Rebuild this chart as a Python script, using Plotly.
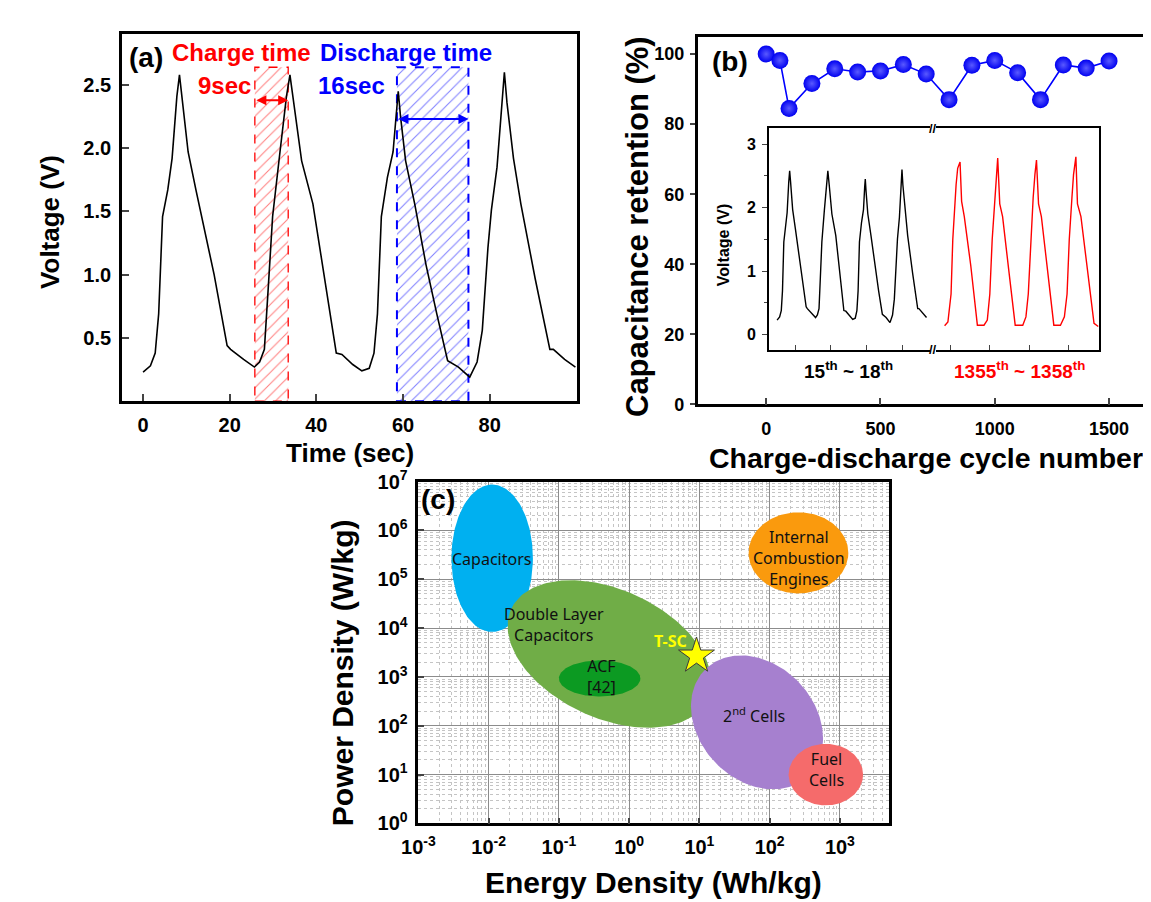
import numpy as np
import plotly.graph_objects as go

# ---------------- data ----------------
# (a) galvanostatic charge/discharge curve (also inset black curve, 15th~18th)
time_s = [0.0, 1.7, 2.8, 3.6, 4.5, 5.7, 6.7, 7.8, 8.4, 9.0, 10.4, 12.2, 16.4, 19.4, 20.2, 23.2, 25.7,
          26.9, 28.0, 28.9, 29.9, 31.6, 33.1, 33.9, 34.8, 36.6, 39.2, 41.7, 44.6, 45.9, 48.4, 50.5, 52.2,
          53.3, 54.1, 55.0, 56.4, 57.7, 58.5, 58.9, 59.4, 60.6, 62.7, 65.3, 67.8, 70.3, 72.8, 75.4,
          77.1, 78.3, 79.6, 80.4, 81.7, 82.8, 83.4, 84.0, 85.5, 87.2, 90.5, 93.9, 94.7, 97.3, 99.8]
voltage_v = [0.23, 0.28, 0.38, 0.69, 1.46, 1.67, 1.92, 2.41, 2.58, 2.41, 1.97, 1.67, 1.00, 0.44, 0.41, 0.33, 0.27,
             0.31, 0.41, 0.90, 1.46, 1.97, 2.41, 2.58, 2.36, 1.90, 1.56, 1.00, 0.38, 0.37, 0.29, 0.24, 0.26,
             0.38, 0.69, 1.46, 1.77, 1.97, 2.33, 2.45, 2.26, 1.90, 1.56, 1.08, 0.69, 0.32, 0.27, 0.19,
             0.31, 0.56, 1.21, 1.51, 1.85, 2.36, 2.60, 2.36, 1.92, 1.56, 0.97, 0.41, 0.41, 0.33, 0.27]
charge_window = [25.8, 33.5]      # s
discharge_window = [58.6, 75.1]   # s
window_top_v = 2.64
charge_arrow_v = 2.38
discharge_arrow_v = 2.23
a_xticks = [0, 20, 40, 60, 80]
a_yticks = [0.5, 1.0, 1.5, 2.0, 2.5]

# (b) capacitance retention
cycle_no = [0, 60, 100, 200, 300, 400, 500, 600, 700, 800, 900, 1000, 1100, 1200, 1300, 1400, 1500]
retention_pct = [100.0, 98.2, 84.5, 91.6, 95.8, 94.9, 95.2, 97.0, 94.3, 87.0, 96.8, 98.2, 94.7, 87.0,
                 96.9, 96.0, 98.0]
b_xticks = [0, 500, 1000, 1500]
b_yticks = [0, 20, 40, 60, 80, 100]

# (b) inset, 1355th ~ 1358th cycles
late_time_s = [-3.7, -1.6, 0.4, 1.5, 3.6, 4.6, 6.1, 7.1, 8.8, 12.9, 17.1, 21.3, 23.4, 25.0, 26.5, 28.1, 29.0,
               30.0, 31.3, 33.1, 36.9, 41.1, 45.9, 47.9, 49.4, 50.9, 52.5, 53.6, 54.6, 55.9, 57.7, 61.5,
               65.6, 69.8, 72.3, 74.0, 75.4, 77.1, 78.1, 79.6, 80.6, 82.8, 86.9, 91.1, 93.8]
late_voltage_v = [0.14, 0.20, 0.64, 1.50, 2.36, 2.62, 2.72, 2.10, 1.86, 1.09, 0.15, 0.15, 0.23, 0.64, 1.50,
                  2.06, 2.52, 2.78, 2.06, 1.86, 1.04, 0.15, 0.15, 0.28, 0.64, 1.50, 2.16, 2.52, 2.75, 2.06,
                  1.86, 1.04, 0.15, 0.15, 0.28, 0.64, 1.50, 2.16, 2.52, 2.80, 2.06, 1.86, 1.04, 0.18, 0.13]
inset_early_ticks = [12, 36, 60, 84]
inset_late_ticks = [0, 25, 50, 75]
inset_yticks = [0, 1, 2, 3]

# (c) Ragone plot regions: log10 centre (Wh/kg, W/kg), half extents (decades), tilt correlation
region_names = ["Capacitors", "Internal Combustion Engines", "Double Layer Capacitors",
                "2nd Cells", "Fuel Cells", "ACF"]
region_log_energy = [-1.95, 2.41, -0.28, 1.82, 2.80, -0.42]
region_log_power = [5.43, 5.54, 3.47, 2.07, 1.00, 2.97]
region_half_energy = [0.58, 0.71, 1.45, 0.94, 0.53, 0.58]
region_half_power = [1.51, 0.83, 1.51, 1.37, 0.63, 0.37]
region_tilt = [0.0, 0.0, -0.38, -0.24, 0.0, 0.0]
region_colors = ["#00B0F0", "#FA9A0D", "#70AD47", "#A680CF", "#F56B6B", "#0C9A22"]
region_labels = ["Capacitors", "Internal<br>Combustion<br>Engines", "Double Layer<br>Capacitors",
                 "2<sup>nd</sup> Cells", "Fuel<br>Cells", "ACF<br>[42]"]
label_energy = [0.0108, 260, 0.0155, 60, 650, 0.40]
label_power = [2.6e5, 2.7e5, 1.2e4, 170, 13, 1000]
tsc_energy = [9.1]
tsc_power = [2700]
c_xticks = [1e-3, 1e-2, 1e-1, 1e0, 1e1, 1e2, 1e3]
c_xticktext = ["10<sup>-3</sup>", "10<sup>-2</sup>", "10<sup>-1</sup>", "10<sup>0</sup>",
               "10<sup>1</sup>", "10<sup>2</sup>", "10<sup>3</sup>"]
c_yticks = [1e0, 1e1, 1e2, 1e3, 1e4, 1e5, 1e6, 1e7]
c_yticktext = ["10<sup>%d</sup>" % k for k in range(8)]

# ---------------- figure ----------------
W, H = 1151, 902
FONT = "Arial, Liberation Sans, sans-serif"
LBL = "Noto Sans, Open Sans, sans-serif"


def px(x):
    return x / W


def py(y):
    return 1 - y / H


fig = go.Figure()

# (a) hatched windows
for (s, e), col, lw in [(charge_window, "#FF0000", 1.3), (discharge_window, "#0000FF", 2)]:
    fig.add_trace(go.Scatter(
        x=[s, e, e, s, s], y=[0, 0, window_top_v, window_top_v, 0], mode="lines",
        fill="toself", fillcolor="rgba(0,0,0,0)",
        fillpattern=dict(shape="/", fgcolor=col, bgcolor="rgba(0,0,0,0)", size=8, solidity=0.13),
        line=dict(color=col, width=lw, dash="dash"), xaxis="x", yaxis="y", hoverinfo="skip"))
fig.add_trace(go.Scatter(x=time_s, y=voltage_v, mode="lines", line=dict(color="black", width=1.6),
                         xaxis="x", yaxis="y"))

# (b) retention
fig.add_trace(go.Scatter(x=cycle_no, y=retention_pct, mode="lines+markers",
                         line=dict(color="#0000FF", width=1.6),
                         marker=dict(size=17, color="#0000F0",
                                     gradient=dict(type="radial", color="#5A5AFF")),
                         xaxis="x2", yaxis="y2"))
# inset
fig.add_trace(go.Scatter(x=time_s, y=voltage_v, mode="lines", line=dict(color="black", width=1.4),
                         xaxis="x3", yaxis="y3"))
fig.add_trace(go.Scatter(x=late_time_s, y=late_voltage_v, mode="lines", line=dict(color="#FF0000", width=1.4),
                         xaxis="x4", yaxis="y4"))

# (c) regions
tt = np.linspace(0, 2 * np.pi, 181)
for i in range(len(region_names)):
    r = region_tilt[i]
    lx = region_log_energy[i] + region_half_energy[i] * np.cos(tt)
    ly = region_log_power[i] + region_half_power[i] * (r * np.cos(tt) + np.sqrt(1 - r * r) * np.sin(tt))
    fig.add_trace(go.Scatter(x=10 ** lx, y=10 ** ly, mode="lines", fill="toself",
                             fillcolor=region_colors[i], line=dict(width=0, color=region_colors[i]),
                             name=region_names[i], xaxis="x5", yaxis="y5"))
fig.add_trace(go.Scatter(x=tsc_energy, y=tsc_power, mode="markers",
                         marker=dict(symbol="star", size=27, color="#FFFF00",
                                     line=dict(color="#3a3a3a", width=1)),
                         xaxis="x5", yaxis="y5"))

axis_common = dict(showline=True, linecolor="black", zeroline=False, showgrid=False)
tf = lambda s: dict(family=FONT, size=s, color="black", weight="bold")

fig.update_layout(
    width=W, height=H, margin=dict(l=0, r=0, t=0, b=0), showlegend=False,
    paper_bgcolor="white", plot_bgcolor="white", font=dict(family=FONT, color="black"),
    xaxis=dict(domain=[px(98.3), px(560)], range=[-4.9, 100.1], tickvals=a_xticks, ticks="inside",
               ticklen=7, tickwidth=1.5, linewidth=2.5, mirror=True, tickfont=tf(20), anchor="y",
               ticklabelstandoff=4, **axis_common),
    yaxis=dict(domain=[py(390), py(12.7)], range=[0, 2.9], tickvals=a_yticks, tickformat=".1f",
               ticks="inside", ticklen=7, tickwidth=1.5, linewidth=2.5, mirror=True, tickfont=tf(20),
               anchor="x", ticklabelstandoff=4, **axis_common),
    xaxis2=dict(domain=[px(682.7), px(1146.7)], range=[-300, 1700], tickvals=b_xticks, ticks="inside",
                ticklen=7, tickwidth=1.5, linewidth=2.5, mirror=True, tickfont=tf(18), anchor="y2",
                ticklabelstandoff=6, **axis_common),
    yaxis2=dict(domain=[py(393.3), py(15)], range=[0, 105], tickvals=b_yticks, ticks="outside",
                ticklen=5, tickwidth=1.5, linewidth=2.5, mirror=True, tickfont=tf(18), anchor="x2",
                ticklabelstandoff=2, **axis_common),
    xaxis3=dict(domain=[px(755), px(919)], range=[-5.5, 102.4], tickvals=inset_early_ticks,
                ticks="inside", ticklen=5, tickwidth=1.2, linewidth=1.5, mirror=True,
                showticklabels=False, anchor="y3", **axis_common),
    yaxis3=dict(domain=[py(337.3), py(109.3)], range=[-0.24, 3.25], tickvals=inset_yticks,
                ticks="outside", ticklen=5, tickwidth=1.2, linewidth=1.5, tickfont=tf(16),
                minor=dict(ticks="outside", ticklen=3, dtick=0.5, tickwidth=1),
                anchor="x3", ticklabelstandoff=3, **axis_common),
    xaxis4=dict(domain=[px(924.5), px(1090)], range=[-9.25, 94.2], tickvals=inset_late_ticks,
                ticks="inside", ticklen=5, tickwidth=1.2, linewidth=1.5, mirror=True,
                showticklabels=False, anchor="y4", **axis_common),
    yaxis4=dict(domain=[py(337.3), py(109.3)], range=[-0.24, 3.25], matches="y3", side="right",
                ticks="", showticklabels=False, linewidth=1.5, anchor="x4", **axis_common),
    xaxis5=dict(type="log", domain=[px(399.3), px(877.3)], range=[-3, 3.704], tickvals=c_xticks,
                ticktext=c_xticktext, ticks="inside", ticklen=6, tickwidth=2, showline=True,
                linecolor="black", linewidth=2.5, mirror=True, zeroline=False, showgrid=True,
                gridcolor="#8c8c8c", gridwidth=1, tickfont=tf(20), anchor="y5", ticklabelstandoff=4,
                minor=dict(showgrid=True, gridcolor="#c4c4c4", griddash="dot", gridwidth=1, dtick="D1")),
    yaxis5=dict(type="log", domain=[py(824.3), py(472.7)], range=[0, 7], tickvals=c_yticks,
                ticktext=c_yticktext, ticks="inside", ticklen=6, tickwidth=2, showline=True,
                linecolor="black", linewidth=2.5, mirror=True, zeroline=False, showgrid=True,
                gridcolor="#8c8c8c", gridwidth=1, tickfont=tf(20), anchor="x5", ticklabelstandoff=4,
                minor=dict(showgrid=True, gridcolor="#c4c4c4", griddash="dot", gridwidth=1, dtick="D1")),
)

ann = []


def txt(x, y, text, size, color="black", bold=True, angle=0, xanchor="center", family=FONT, **kw):
    ann.append(dict(x=x, y=y, xref="paper", yref="paper", text=text, showarrow=False, textangle=angle,
                    xanchor=xanchor, yanchor="middle",
                    font=dict(family=family, size=size, color=color, weight="bold" if bold else "normal"),
                    **kw))


# panel (a) texts
txt(px(122.5), py(36), "(a)", 28)
txt(px(147), py(31), "Charge time", 24, "#FF0000", xanchor="left")
txt(px(297), py(31), "Discharge time", 24, "#0000FF", xanchor="left")
txt(px(202.5), py(65), "9sec", 24, "#FF0000")
txt(px(331.5), py(65), "16sec", 24, "#0000FF")
txt(px(26), py(206), "Voltage (V)", 26, angle=-90)
txt(px(330), py(443), "Time (sec)", 26)
# arrows
for (s, e), yv, col in [(charge_window, charge_arrow_v, "#FF0000"), (discharge_window, discharge_arrow_v, "#0000FF")]:
    ann.append(dict(x=e, y=yv, ax=s, ay=yv, xref="x", yref="y", axref="x", ayref="y", text="",
                    showarrow=True, arrowhead=2, startarrowhead=2, arrowside="end+start",
                    arrowcolor=col, arrowwidth=2, arrowsize=1, startarrowsize=1))

# panel (b) texts
txt(px(716), py(41), "(b)", 28)
txt(px(621), py(210), "Capacitance retention (%)", 31, angle=-90)
txt(px(914), py(448), "Charge-discharge cycle number", 28.5)
txt(px(709), py(230), "Voltage (V)", 16, angle=-90)
txt(px(836), py(358), "15<sup>th</sup> ~ 18<sup>th</sup>", 19)
txt(px(1009), py(358), "1355<sup>th</sup> ~ 1358<sup>th</sup>", 19, "#FF0000")
txt(px(921.7), py(109.3), "//", 13)
txt(px(921.7), py(337.3), "//", 13)

# panel (c) texts
txt(px(419.5), py(491), "(c)", 28)
txt(px(322.5), py(669), "Power Density (W/kg)", 30, angle=-90)
txt(px(637.5), py(885), "Energy Density (Wh/kg)", 30)
for i in range(len(region_labels)):
    ann.append(dict(x=np.log10(label_energy[i]), y=np.log10(label_power[i]), xref="x5", yref="y5",
                    text=region_labels[i], showarrow=False,
                    xanchor="left" if i == 2 else "center", yanchor="middle",
                    font=dict(family=LBL, size=16, color="#111111")))
ann.append(dict(x=np.log10(tsc_energy[0]), y=np.log10(tsc_power[0]), xref="x5", yref="y5", text="T-SC",
                showarrow=False, xanchor="right", yanchor="bottom", xshift=-8, yshift=2,
                font=dict(family=LBL, size=16, color="#FFFF00", weight="bold")))

fig.update_layout(annotations=ann)
fig.write_html("out.html")
